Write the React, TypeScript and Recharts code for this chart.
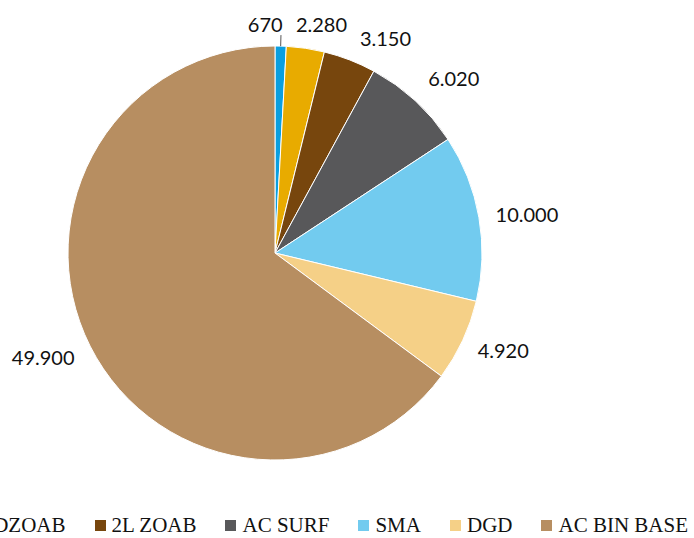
import { Legend, Pie, PieChart, Cell } from "recharts";

const categories = ["ZOAB", "DZOAB", "2L ZOAB", "AC SURF", "SMA", "DGD", "AC BIN BASE"];
const values = [670, 2280, 3150, 6020, 10000, 4920, 49900];
const valueLabels = ["670", "2.280", "3.150", "6.020", "10.000", "4.920", "49.900"];
const colors = ["#0a9fe0", "#e8ab00", "#77460d", "#58585a", "#72cbef", "#f5d087", "#b78e61"];

// label placement tweaks (degrees shift, radius) - mimics excel "best fit"
const labelShift = [-4, 3, 6, 3, 1, -2, 2.6];
const labelRadius = [229, 234, 242, 250, 255, 248, 254];

const data = categories.map((name, i) => ({ name, value: values[i] }));

const RAD = Math.PI / 180;

const renderLabel = (props: any) => {
  const { cx, cy, midAngle, outerRadius, index } = props;
  const angle = (midAngle - labelShift[index]) * RAD;
  const r = labelRadius[index];
  const x = cx + r * Math.cos(angle);
  const y = cy - r * Math.sin(angle);
  const mid = midAngle * RAD;
  return (
    <g key={`lbl-${index}`}>
      {index === 0 && (
        <line
          x1={cx + outerRadius * Math.cos(mid)}
          y1={cy - outerRadius * Math.sin(mid)}
          x2={cx + (outerRadius + 11) * Math.cos(mid)}
          y2={cy - (outerRadius + 11) * Math.sin(mid)}
          stroke="#555"
          strokeWidth={1}
        />
      )}
      <text
        x={x}
        y={y}
        textAnchor="middle"
        dominantBaseline="central"
        fill="#111"
        fontSize={20}
        fontFamily="Lato, sans-serif"
      >
        {valueLabels[index]}
      </text>
    </g>
  );
};

const renderLegend = () => (
  <div
    style={{
      display: "flex",
      justifyContent: "flex-end",
      alignItems: "center",
      whiteSpace: "nowrap",
      overflow: "hidden",
      width: 688,
      fontFamily: "'Liberation Serif', serif",
      fontSize: 21,
      color: "#111",
    }}
  >
    {categories.map((c, i) => (
      <div key={c} style={{ display: "flex", alignItems: "center", marginLeft: i === 0 ? 0 : 29, flexShrink: 0 }}>
        <span style={{ width: 11, height: 11, background: colors[i], marginRight: 6, display: "inline-block" }} />
        <span>{c}</span>
      </div>
    ))}
  </div>
);

export default function App() {
  return (
    <div style={{ position: "absolute", left: 0, top: 0, width: 694, height: 538, background: "#fff" }}>
      <PieChart width={694} height={538} margin={{ top: 0, right: 0, bottom: 0, left: 0 }}>
        <Pie
          data={data}
          dataKey="value"
          nameKey="name"
          cx={275}
          cy={253}
          outerRadius={207}
          startAngle={90}
          endAngle={-270}
          stroke="#fff"
          strokeWidth={1}
          label={renderLabel}
          labelLine={false}
          isAnimationActive={false}
        >
          {data.map((d, i) => (
            <Cell key={d.name} fill={colors[i]} />
          ))}
        </Pie>
        <Legend
          content={renderLegend}
          wrapperStyle={{ position: "absolute", left: 0, top: 513, width: 694 }}
        />
      </PieChart>
    </div>
  );
}
